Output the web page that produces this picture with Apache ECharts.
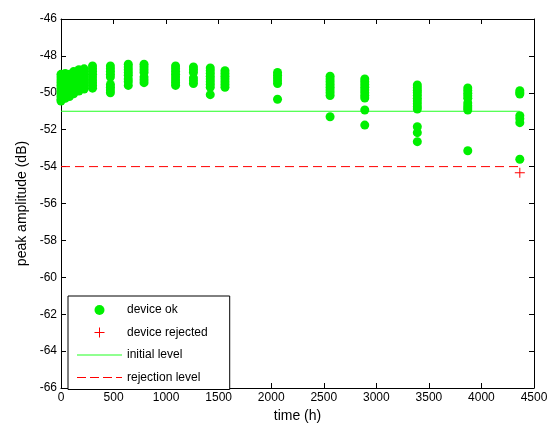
<!DOCTYPE html>
<html>
<head>
<meta charset="utf-8">
<script src="https://cdn.jsdelivr.net/npm/echarts@6/dist/echarts.min.js"></script>
<style>
  html, body { margin: 0; padding: 0; background: #fff; }
  #chart { width: 552px; height: 428px; }
</style>
</head>
<body>
<div id="chart"></div>
<script>
// measurement times (h), one column of points per time
const times = [0, 40, 80, 120, 170, 220, 300, 470, 640, 790, 1090, 1260, 1420, 1560, 2060, 2560, 2890, 3390, 3870, 4365];

// peak amplitudes (dB) of the devices that passed, per time
const okValues = [
  [-49.0, -49.15, -49.3, -49.45, -49.6, -49.75, -49.9, -50.05, -50.2, -50.35, -50.45],
  [-48.95, -49.1, -49.25, -49.4, -49.55, -49.7, -49.85, -50.0, -50.15, -50.3],
  [-49.0, -49.15, -49.3, -49.45, -49.6, -49.75, -49.9, -50.05, -50.2],
  [-48.85, -49.0, -49.15, -49.3, -49.45, -49.6, -49.75, -49.9, -50.05],
  [-48.75, -48.9, -49.05, -49.2, -49.35, -49.5, -49.65, -49.8, -49.9],
  [-48.7, -48.85, -49.0, -49.15, -49.3, -49.45, -49.6, -49.8],
  [-48.55, -48.7, -48.85, -49.0, -49.15, -49.3, -49.45, -49.6, -49.75],
  [-48.55, -48.7, -48.85, -49.0, -49.15, -49.55, -49.7, -49.85, -50.0],
  [-48.45, -48.6, -48.75, -48.9, -49.05, -49.25, -49.4, -49.6],
  [-48.45, -48.6, -48.75, -48.9, -49.15, -49.3, -49.45],
  [-48.55, -48.7, -48.85, -49.0, -49.15, -49.3, -49.45, -49.6],
  [-48.6, -48.75, -48.9, -49.2, -49.35, -49.5],
  [-48.65, -48.8, -48.95, -49.1, -49.25, -49.4, -49.55, -49.7, -50.1],
  [-48.8, -48.95, -49.1, -49.25, -49.4, -49.55, -49.7],
  [-48.9, -49.05, -49.2, -49.35, -49.5, -50.35],
  [-49.1, -49.25, -49.4, -49.55, -49.7, -49.85, -50.0, -50.15, -51.3],
  [-49.25, -49.4, -49.55, -49.7, -49.85, -50.0, -50.15, -50.28, -50.93, -51.75],
  [-49.58, -49.72, -49.86, -50.0, -50.14, -50.3, -50.45, -50.6, -50.75, -50.88, -51.84, -52.16, -52.65],
  [-49.74, -49.88, -50.02, -50.16, -50.3, -50.55, -50.7, -50.82, -50.93, -53.14],
  [-49.89, -50.0, -50.07, -51.24, -51.4, -51.62, -53.6]
];

// devices rejected: [time, amplitude]
const rejected = [[4365, -54.33]];

// reference levels (dB) and the time span they are drawn over
const initialLevel = -51;
const rejectionLevel = -54;
const levelSpan = [0, 4365];

const xTicks = { min: 0, max: 4500, interval: 500 };
const yTicks = { min: -66, max: -46, interval: 2 };

const okPoints = [];
times.forEach((t, i) => {
  okValues[i].forEach((v) => okPoints.push([t, v]));
});

const font = 'Liberation Sans, Arial, Helvetica, sans-serif';
const plusPath = 'path://M4.5,0h1v4.5h4.5v1h-4.5v4.5h-1v-4.5h-4.5v-1h4.5z';
// legend samples drawn as thin bars so no marker shows in them
const solidIcon = 'path://M0,0h45v1h-45z';
const dashIcon = 'path://M0,0h9v1h-9z M13,0h9v1h-9z M26,0h9v1h-9z M39,0h6v1h-6z';

const baseAxis = {
  axisLine: { show: true, onZero: false, lineStyle: { color: '#000', width: 1 } },
  axisTick: { show: true, inside: true, length: 5, lineStyle: { color: '#000' } },
  splitLine: { show: false }
};

const chart = echarts.init(document.getElementById('chart'));

chart.setOption({
  animation: false,
  backgroundColor: '#fff',
  grid: { left: 61, right: 18, top: 19, bottom: 40 },
  legend: {
    orient: 'vertical',
    left: 68,
    top: 296,
    padding: [8, 22, 6, 9],
    itemWidth: 45,
    itemHeight: 10,
    itemGap: 10.5,
    backgroundColor: '#fff',
    borderColor: '#000',
    borderWidth: 1,
    textStyle: { fontFamily: font, fontSize: 12, color: '#000' },
    data: [
      { name: 'device ok' },
      { name: 'device rejected' },
      { name: 'initial level', icon: solidIcon },
      { name: 'rejection level', icon: dashIcon }
    ]
  },
  xAxis: [
    Object.assign({}, baseAxis, {
      type: 'value',
      min: xTicks.min, max: xTicks.max, interval: xTicks.interval,
      name: 'time (h)',
      nameLocation: 'middle',
      nameGap: 16,
      nameTextStyle: { fontFamily: font, fontSize: 14, color: '#000' },
      axisLabel: { margin: 4, fontFamily: font, fontSize: 12, color: '#000', formatter: (v) => String(v) }
    }),
    Object.assign({}, baseAxis, {
      type: 'value', position: 'top',
      min: xTicks.min, max: xTicks.max, interval: xTicks.interval,
      axisLabel: { show: false }
    })
  ],
  yAxis: [
    Object.assign({}, baseAxis, {
      type: 'value',
      min: yTicks.min, max: yTicks.max, interval: yTicks.interval,
      name: 'peak amplitude (dB)',
      nameLocation: 'middle',
      nameGap: 31,
      nameTextStyle: { fontFamily: font, fontSize: 14, color: '#000' },
      axisLabel: { margin: 4, fontFamily: font, fontSize: 12, color: '#000', formatter: (v) => String(v) }
    }),
    Object.assign({}, baseAxis, {
      type: 'value', position: 'right',
      min: yTicks.min, max: yTicks.max, interval: yTicks.interval,
      axisLabel: { show: false }
    })
  ],
  series: [
    {
      name: 'initial level',
      type: 'line',
      data: levelSpan.map((t) => [t, initialLevel]),
      symbol: 'none',
      lineStyle: { color: '#22ff22', width: 1 },
      itemStyle: { color: '#22ff22' },
      z: 2
    },
    {
      name: 'rejection level',
      type: 'line',
      data: levelSpan.map((t) => [t, rejectionLevel]),
      symbol: 'none',
      lineStyle: { color: '#ff0000', width: 1, type: [9, 5] },
      itemStyle: { color: '#ff0000' },
      z: 2
    },
    {
      name: 'device ok',
      type: 'scatter',
      data: okPoints,
      symbol: 'circle',
      symbolSize: 9,
      itemStyle: { color: '#00f000', opacity: 1 },
      z: 3
    },
    {
      name: 'device rejected',
      type: 'scatter',
      data: rejected,
      symbol: plusPath,
      symbolSize: 10,
      itemStyle: { color: '#ff0000', opacity: 1 },
      z: 3
    }
  ]
});
</script>
</body>
</html>
